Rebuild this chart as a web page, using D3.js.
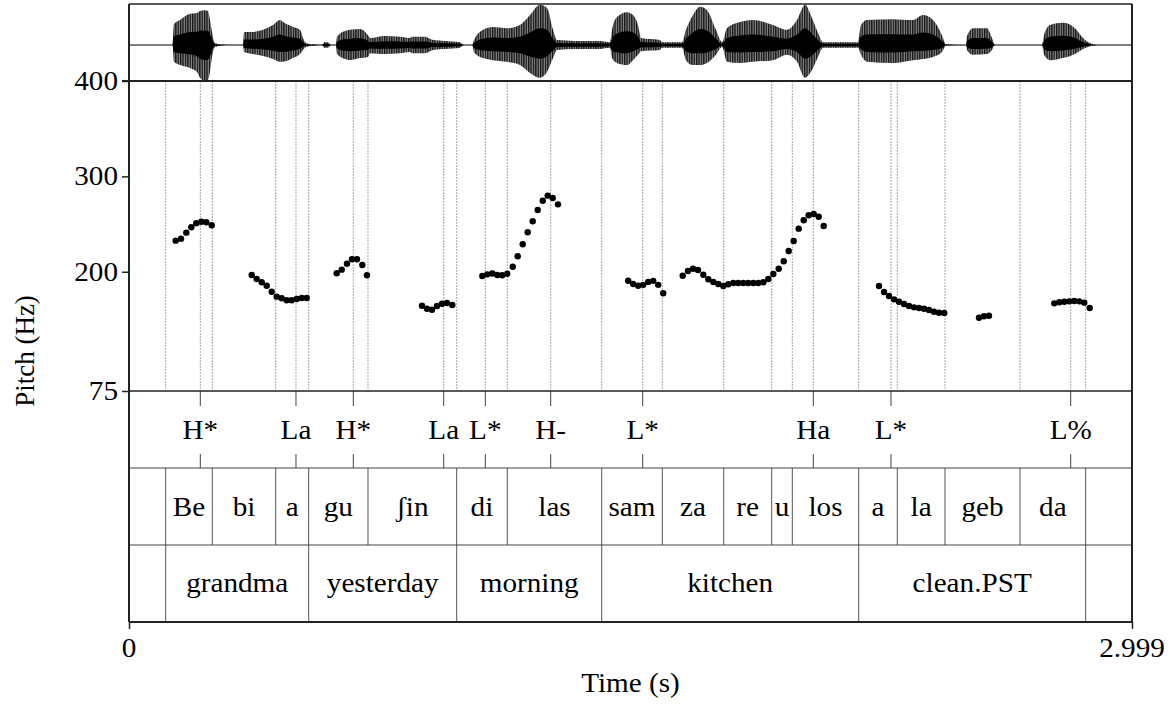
<!DOCTYPE html>
<html><head><meta charset="utf-8">
<script src="https://cdn.jsdelivr.net/npm/d3@7"></script>
</head><body style="margin:0;background:#fff">
<svg id="chart" width="1173" height="704"></svg>
<script>
// ---------- data ----------
const timeDomain = [0, 2.999];
const timeTickValues = [0, 2.999];
const timeTickLabels = ["0", "2.999"];
const pitchDomain = [75, 400];
const pitchTickValues = [75, 200, 300, 400];

const pitchTime = [
  0.1396,0.1555,0.1713,0.1863,0.2012,0.2162,0.2311,0.2473,
  0.3669,0.3818,0.3968,0.4117,0.4267,0.4416,0.4566,0.4715,0.4865,0.5014,0.5164,0.5313,
  0.6210,0.6360,0.6518,0.6668,0.6817,0.6976,0.7116,
  0.8761,0.8910,0.9060,0.9209,0.9359,0.9508,0.9667,
  1.0564,1.0713,1.0863,1.1012,1.1162,1.1311,1.1473,1.1622,1.1772,1.1921,1.2071,1.2220,1.2370,1.2519,1.2669,1.2827,
  1.4926,1.5076,1.5225,1.5375,1.5524,1.5674,1.5823,1.5973,
  1.6556,1.6714,1.6864,1.7013,1.7172,1.7321,1.7471,1.7620,1.7770,1.7919,1.8069,1.8218,1.8368,1.8517,1.8667,1.8816,
  1.8966,1.9115,1.9265,1.9426,1.9576,1.9725,1.9875,2.0024,2.0174,2.0323,2.0473,2.0622,2.0772,
  2.2425,2.2575,2.2724,2.2874,2.3023,2.3173,2.3322,2.3472,2.3621,2.3771,2.3920,2.4070,2.4219,2.4377,
  2.5415,2.5564,2.5714,
  2.7666,2.7816,2.7965,2.8115,2.8264,2.8414,2.8563,2.8725
];
const pitchHz = [
  232.6,234.7,241.0,246.6,250.8,252.5,251.9,248.7,
  196.6,192.4,189.0,185.4,179.1,173.9,172.2,170.1,170.1,171.5,172.5,172.5,
  198.4,202.2,208.5,213.1,213.1,207.1,196.3,
  164.4,161.3,160.2,164.1,166.5,167.3,165.2,
  195.6,197.3,198.2,196.6,196.4,198.0,205.3,216.3,228.8,241.4,252.9,264.8,274.5,279.8,277.3,270.7,
  190.6,187.2,185.3,186.3,189.3,190.5,186.3,177.5,
  195.9,200.8,203.2,201.9,196.9,192.1,189.3,187.2,185.1,186.9,188.2,188.2,188.2,188.2,188.2,188.2,
  189.0,192.4,197.7,203.2,211.0,221.8,232.3,245.2,254.0,259.2,260.6,257.7,248.0,
  185.1,178.8,174.6,171.1,168.6,166.2,164.1,162.7,162.0,161.3,159.9,158.1,157.1,156.8,
  151.8,153.3,153.9,
  166.9,168.0,168.6,169.0,169.4,169.0,167.6,162.0
];

const tones = ["H*","La","H*","La","L*","H-","L*","Ha","L*","L%"];
const toneTimes = [0.2132,0.4993,0.6707,0.9410,1.0654,1.2609,1.5360,2.0461,2.2784,2.8157];

const syllables = ["Be","bi","a","gu","ʃin","di","las","sam","za","re","u","los","a","la","geb","da"];
const syllableBounds = [0.1097,0.2491,0.4386,0.5373,0.7146,0.9798,1.1311,1.4134,1.5946,1.7782,1.9217,1.9833,2.1818,2.2972,2.4399,2.6641,2.8605];

const words = ["grandma","yesterday","morning","kitchen","clean.PST"];
const wordBounds = [0.1097,0.5373,0.9798,1.4134,2.1818,2.8605];

// waveform amplitude envelope (relative units)
const waveTime = [0.000,0.130,0.1345,0.1525,0.1824,0.2033,0.2123,0.2272,0.2362,0.2422,0.2482,0.2571,0.2781,0.2930,
  0.3409,0.3439,0.3708,0.4007,0.4306,0.4515,0.4605,0.4904,0.5113,0.5203,0.5292,0.5561,0.5771,0.5831,0.5950,0.6040,
  0.6189,0.6219,0.6458,0.6608,0.6907,0.7146,0.7206,0.7654,0.8103,0.8402,0.8462,0.8851,0.9090,0.9448,0.9897,1.0017,
  1.0256,1.0316,1.0585,1.0884,1.1302,1.1691,1.1990,1.2289,1.2498,1.2678,1.2797,1.3335,1.4083,1.4382,1.4442,1.4591,
  1.4890,1.5070,1.5219,1.5309,1.5877,1.5936,1.6535,1.6654,1.6863,1.7073,1.7282,1.7551,1.7731,1.7880,1.8269,1.8658,
  1.9256,1.9674,1.9973,2.0212,2.0422,2.0631,2.0751,2.1797,2.1887,2.2066,2.2844,2.3442,2.3741,2.4040,2.4309,2.4428,
  2.5026,2.5056,2.5236,2.5654,2.5804,2.5893,2.7299,2.7359,2.7538,2.7927,2.8285,2.8525,2.8824,2.9033,2.999];
const waveMax = [0,0,0.51,0.61,0.76,0.78,0.83,0.85,0.83,0.61,0.32,0.05,0.01,0,
  0,0.32,0.32,0.37,0.49,0.61,0.56,0.44,0.37,0.17,0.05,0.01,0,0.07,0.07,0,
  0,0.20,0.34,0.37,0.39,0.24,0.17,0.22,0.20,0.17,0.20,0.20,0.12,0.10,0.07,0,
  0,0.12,0.37,0.44,0.41,0.49,0.73,0.98,0.90,0.37,0.12,0.10,0.10,0.07,0.37,0.68,
  0.80,0.73,0.49,0.17,0.12,0.07,0.07,0.37,0.73,0.93,0.85,0.37,0.07,0.41,0.56,0.61,
  0.49,0.37,0.61,0.98,0.66,0.24,0.07,0.07,0.49,0.61,0.63,0.61,0.73,0.61,0.24,0.02,
  0,0.22,0.41,0.41,0.17,0,0,0.24,0.49,0.54,0.41,0.17,0.02,0,0];
const waveMin = [0,0,-0.41,-0.49,-0.56,-0.66,-0.80,-0.88,-0.85,-0.66,-0.29,-0.05,-0.01,0,
  0,-0.17,-0.22,-0.27,-0.34,-0.41,-0.41,-0.32,-0.22,-0.12,-0.05,-0.01,0,-0.07,-0.07,0,
  0,-0.22,-0.34,-0.37,-0.32,-0.29,-0.20,-0.22,-0.20,-0.17,-0.20,-0.20,-0.12,-0.10,-0.07,0,
  0,-0.17,-0.32,-0.37,-0.41,-0.49,-0.68,-0.80,-0.66,-0.32,-0.12,-0.10,-0.10,-0.07,-0.32,-0.44,
  -0.49,-0.37,-0.24,-0.15,-0.12,-0.07,-0.07,-0.37,-0.49,-0.49,-0.44,-0.24,-0.05,-0.41,-0.44,-0.41,
  -0.37,-0.24,-0.41,-0.80,-0.61,-0.24,-0.07,-0.07,-0.24,-0.41,-0.44,-0.37,-0.34,-0.29,-0.17,-0.02,
  0,-0.12,-0.24,-0.22,-0.12,0,0,-0.24,-0.37,-0.32,-0.22,-0.10,-0.02,0,0];

// ---------- layout ----------
const L = 129, R = 1132;
const yTop = 4, yPitchTop = 81, yPitchBot = 391, yTone = 468, ySyl = 545, yWord = 622;
const FS = 27, SX = 1.08;
const FONT = "Liberation Serif";

const svg = d3.select("#chart");
const x = d3.scaleLinear().domain(timeDomain).range([L, R]);
const y = d3.scaleLinear().domain(pitchDomain).range([yPitchBot, yPitchTop]);
const yW = d3.scaleLinear().domain([-1, 1]).range([86, 4]);
const yWcore = d3.scaleLinear().domain([-2.4, 2.4]).range([86, 4]);

const texts = [];
function label(g, px, py, txt, anchor) {
  const t = g.append("text")
    .attr("x", px).attr("y", py)
    .attr("text-anchor", anchor || "middle")
    .attr("font-family", FONT)
    .attr("font-size", FS)
    .attr("fill", "#000")
    .text(txt);
  texts.push(t);
  return t;
}

// pattern for waveform
const defs = svg.append("defs");
const pat = defs.append("pattern").attr("id", "stripes").attr("patternUnits", "userSpaceOnUse")
  .attr("width", 2.4).attr("height", 10);
pat.append("rect").attr("width", 2.4).attr("height", 10).attr("fill", "#8a8a8a");
pat.append("rect").attr("width", 1.3).attr("height", 10).attr("fill", "#111");
defs.append("clipPath").attr("id", "wclip").append("rect")
  .attr("x", L).attr("y", yTop).attr("width", R - L).attr("height", yPitchTop - yTop);

// waveform
const wdata = waveTime.map((t, i) => ({t, hi: waveMax[i], lo: waveMin[i]}));
const wg = svg.append("g").attr("clip-path", "url(#wclip)");
wg.append("line").attr("x1", L).attr("x2", R).attr("y1", yW(0)).attr("y2", yW(0))
  .attr("stroke", "#000").attr("stroke-width", 1);
wg.append("path").datum(wdata)
  .attr("d", d3.area().x(d => x(d.t)).y0(d => yW(d.lo)).y1(d => yW(d.hi)).curve(d3.curveMonotoneX))
  .attr("fill", "url(#stripes)");
wg.append("path").datum(wdata)
  .attr("d", d3.area().x(d => x(d.t)).y0(d => yWcore(d.lo)).y1(d => yWcore(d.hi)).curve(d3.curveMonotoneX))
  .attr("fill", "#000");

// dotted boundary lines in pitch area
const allBounds = syllableBounds.concat(toneTimes);
svg.append("g").selectAll("line").data(allBounds).join("line")
  .attr("x1", d => x(d)).attr("x2", d => x(d))
  .attr("y1", yPitchTop).attr("y2", yPitchBot)
  .attr("stroke", "#a8a8a8").attr("stroke-width", 1).attr("stroke-dasharray", "2,1");

// pitch dots
svg.append("g").selectAll("circle").data(pitchTime.map((t, i) => [t, pitchHz[i]])).join("circle")
  .attr("cx", d => x(d[0])).attr("cy", d => y(d[1])).attr("r", 3.2).attr("fill", "#000");

// tone tier ticks and labels
const tg = svg.append("g");
tg.selectAll("line.t1").data(toneTimes).join("line").attr("class", "t1")
  .attr("x1", d => x(d)).attr("x2", d => x(d)).attr("y1", yPitchBot).attr("y2", yPitchBot + 15)
  .attr("stroke", "#444").attr("stroke-width", 1);
tg.selectAll("line.t2").data(toneTimes).join("line").attr("class", "t2")
  .attr("x1", d => x(d)).attr("x2", d => x(d)).attr("y1", yTone - 14).attr("y2", yTone)
  .attr("stroke", "#444").attr("stroke-width", 1);
tones.forEach((s, i) => label(tg, x(toneTimes[i]), 439, s));

// syllable tier
const sg = svg.append("g");
sg.selectAll("line").data(syllableBounds).join("line")
  .attr("x1", d => x(d)).attr("x2", d => x(d)).attr("y1", yTone).attr("y2", ySyl)
  .attr("stroke", "#555").attr("stroke-width", 1);
syllables.forEach((s, i) => label(sg, (x(syllableBounds[i]) + x(syllableBounds[i + 1])) / 2, 516, s));

// word tier
const wgg = svg.append("g");
wgg.selectAll("line").data(wordBounds).join("line")
  .attr("x1", d => x(d)).attr("x2", d => x(d)).attr("y1", ySyl).attr("y2", yWord)
  .attr("stroke", "#555").attr("stroke-width", 1);
words.forEach((s, i) => label(wgg, (x(wordBounds[i]) + x(wordBounds[i + 1])) / 2, 592, s));

// frame & separators
const fg = svg.append("g").attr("stroke", "#222");
fg.append("line").attr("x1", L).attr("x2", R).attr("y1", yTop).attr("y2", yTop).attr("stroke-width", 1.5);
fg.append("line").attr("x1", L - 7).attr("x2", R).attr("y1", yPitchTop).attr("y2", yPitchTop).attr("stroke-width", 2);
fg.append("line").attr("x1", L).attr("x2", R).attr("y1", yPitchBot).attr("y2", yPitchBot).attr("stroke-width", 1.5);
fg.append("line").attr("x1", L).attr("x2", R).attr("y1", yTone).attr("y2", yTone).attr("stroke-width", 1).attr("stroke", "#444");
fg.append("line").attr("x1", L).attr("x2", R).attr("y1", ySyl).attr("y2", ySyl).attr("stroke-width", 1).attr("stroke", "#444");
fg.append("line").attr("x1", L).attr("x2", R).attr("y1", yWord).attr("y2", yWord).attr("stroke-width", 2);
fg.append("line").attr("x1", L).attr("x2", L).attr("y1", yTop).attr("y2", yWord).attr("stroke-width", 2);
fg.append("line").attr("x1", R).attr("x2", R).attr("y1", yTop).attr("y2", yWord).attr("stroke-width", 2);

// pitch axis (ticks via d3 axis, labels as plain texts)
const ay = svg.append("g").attr("transform", `translate(${L},0)`)
  .call(d3.axisLeft(y).tickValues(pitchTickValues).tickSize(7).tickFormat(""));
ay.select(".domain").remove();
ay.selectAll(".tick line").attr("stroke", "#222").attr("stroke-width", 1.5);
pitchTickValues.forEach(v => label(svg, L - 11, y(v) + 9, String(v), "end"));

// time axis
const ax = svg.append("g").attr("transform", `translate(0,${yWord})`)
  .call(d3.axisBottom(x).tickValues(timeTickValues).tickSize(7).tickFormat(""));
ax.select(".domain").remove();
ax.selectAll(".tick line").attr("stroke", "#222").attr("stroke-width", 1.5);
timeTickValues.forEach((v, i) => label(svg, x(v), 657, timeTickLabels[i]));

// axis titles
label(svg, (L + R) / 2, 692, "Time (s)");
svg.append("g").attr("transform", "translate(34,351) rotate(-90)")
  .append("text").attr("x", 0).attr("y", 0)
  .attr("text-anchor", "middle").attr("font-family", FONT).attr("font-size", FS).attr("fill", "#000").text("Pitch (Hz)");

// widen horizontal texts slightly to match the reference's aspect
texts.forEach(t => {
  const w = t.node().getComputedTextLength();
  if (w > 0) t.attr("textLength", (w * SX).toFixed(1)).attr("lengthAdjust", "spacingAndGlyphs");
});
</script>
</body></html>
